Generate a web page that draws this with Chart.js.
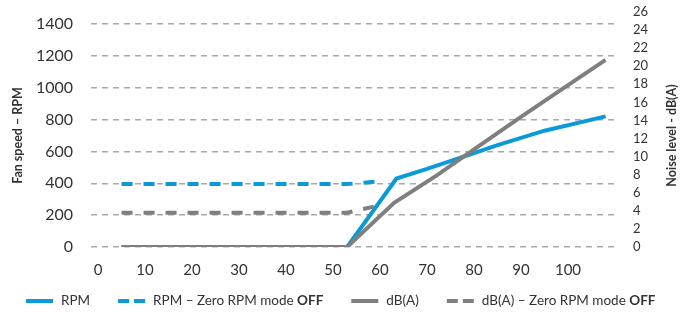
<!DOCTYPE html>
<html>
<head>
<meta charset="utf-8">
<script src="https://cdn.jsdelivr.net/npm/chart.js@4.4.1/dist/chart.umd.min.js"></script>
<style>
  html, body { margin: 0; padding: 0; background: #ffffff; }
  #wrap { width: 681px; height: 315px; position: relative; }
</style>
</head>
<body>
<div id="wrap"><canvas id="fanChart"></canvas></div>
<script>
// данные графика
const seriesLabels = ['RPM', 'RPM – Zero RPM mode OFF', 'dB(A)', 'dB(A) – Zero RPM mode OFF'];
const rpmX = [5, 53, 63.5, 70, 77, 85, 95, 108];
const rpmY = [0, 0, 430, 490, 560, 640, 730, 820];
const rpmOffX = [5, 53, 60];
const rpmOffY = [395, 395, 412];
const dbX = [5, 53, 63, 72, 80, 90, 100, 108];
const dbY = [0, 0, 4.9, 7.9, 10.8, 14.4, 17.9, 20.7];
const dbOffX = [5, 53, 59];
const dbOffY = [3.8, 3.8, 4.5];
const xTicks = [0, 10, 20, 30, 40, 50, 60, 70, 80, 90, 100];
const rpmTicks = [0, 200, 400, 600, 800, 1000, 1200, 1400];
const dbTicks = [0, 2, 4, 6, 8, 10, 12, 14, 16, 18, 20, 22, 24, 26];
const leftTitle = 'Fan speed – RPM';
const rightTitle = 'Noise level - dB(A)';

const BLUE = '#0a9ad7';
const GREY = '#7f7f7f';
const FONT = 'Lato, "Open Sans", sans-serif';

const toPoints = (xs, ys) => xs.map((x, i) => ({ x, y: ys[i] }));

// убираем автоматические отступы под подписи, размеры задаём сами
const fixSize = (size) => (scale) => {
  Object.assign(scale, size);
  scale.paddingTop = 0;
  scale.paddingBottom = 0;
  scale.paddingLeft = 0;
  scale.paddingRight = 0;
};

// подписи осей и легенда рисуем сами (жирное OFF, поворот правой подписи)
const extrasPlugin = {
  id: 'extras',
  afterDraw(chart) {
    const { ctx, chartArea } = chart;
    const midY = (chartArea.top + chartArea.bottom) / 2 + 6;
    ctx.save();
    ctx.fillStyle = '#333333';
    ctx.font = `bold 12.5px ${FONT}`;
    ctx.textAlign = 'center';
    ctx.textBaseline = 'middle';
    [[18, leftTitle], [672, rightTitle]].forEach(([x, text]) => {
      ctx.save();
      ctx.translate(x, midY);
      ctx.rotate(-Math.PI / 2);
      ctx.fillText(text, 0, 0);
      ctx.restore();
    });

    // легенда
    let x = 26;
    const y = 301;
    chart.data.datasets.forEach((ds) => {
      ctx.save();
      ctx.strokeStyle = ds.borderColor;
      ctx.lineWidth = 4;
      ctx.setLineDash(ds.borderDash ? [11, 5] : []);
      ctx.beginPath();
      ctx.moveTo(x, y);
      ctx.lineTo(x + 27, y);
      ctx.stroke();
      ctx.restore();
      x += 27 + 8;
      ctx.textAlign = 'left';
      ctx.fillStyle = '#333333';
      const label = ds.label;
      if (label.endsWith(' OFF')) {
        const head = label.slice(0, -3);
        ctx.font = `13.5px ${FONT}`;
        ctx.fillText(head, x, y);
        x += ctx.measureText(head).width;
        ctx.font = `bold 13.5px ${FONT}`;
        ctx.fillText('OFF', x, y);
        x += ctx.measureText('OFF').width;
      } else {
        ctx.font = `13.5px ${FONT}`;
        ctx.fillText(label, x, y);
        x += ctx.measureText(label).width;
      }
      x += 28;
    });
    ctx.restore();
  },
};

const lineStyle = {
  borderWidth: 4,
  pointRadius: 0,
  tension: 0,
  fill: false,
};

const chartConfig = {
  type: 'line',
  data: {
    datasets: [
      {
        ...lineStyle, label: seriesLabels[0], data: toPoints(rpmX, rpmY), borderColor: BLUE, yAxisID: 'y', order: 2,
      },
      {
        ...lineStyle, label: seriesLabels[1], data: toPoints(rpmOffX, rpmOffY), borderColor: BLUE, borderDash: [11, 11], yAxisID: 'y', order: 2,
      },
      {
        ...lineStyle, label: seriesLabels[2], data: toPoints(dbX, dbY), borderColor: GREY, yAxisID: 'y1', order: 1,
      },
      {
        ...lineStyle, label: seriesLabels[3], data: toPoints(dbOffX, dbOffY), borderColor: GREY, borderDash: [11, 11], yAxisID: 'y1', order: 1,
      },
    ],
  },
  options: {
    responsive: true,
    maintainAspectRatio: false,
    animation: false,
    layout: { padding: { top: 12, left: 0, right: 0, bottom: 0 } },
    plugins: {
      legend: { display: false },
      tooltip: { enabled: false },
    },
    scales: {
      x: {
        type: 'linear',
        min: -1.5,
        max: 110,
        afterBuildTicks: (scale) => { scale.ticks = xTicks.map((value) => ({ value })); },
        afterFit: fixSize({ height: 68 }),
        grid: { display: false, drawTicks: false },
        border: { display: false },
        ticks: {
          color: '#333333',
          font: { family: FONT, size: 15 },
          padding: 14,
          maxRotation: 0,
          autoSkip: false,
          callback: (value) => String(value),
        },
      },
      y: {
        position: 'left',
        min: 0,
        max: 1475,
        afterBuildTicks: (scale) => { scale.ticks = rpmTicks.map((value) => ({ value })); },
        afterFit: fixSize({ width: 91 }),
        grid: {
          color: '#a8a8a8', lineWidth: 1.5, drawTicks: false,
        },
        border: { display: false, dash: [6, 5] },
        ticks: {
          color: '#333333',
          font: { family: FONT, size: 16 },
          padding: 18,
          autoSkip: false,
          callback: (value) => String(value),
        },
      },
      y1: {
        position: 'right',
        min: 0,
        max: 26,
        afterBuildTicks: (scale) => { scale.ticks = dbTicks.map((value) => ({ value })); },
        afterFit: fixSize({ width: 66 }),
        grid: { display: false, drawTicks: false },
        border: { display: false },
        ticks: {
          color: '#333333',
          font: { family: FONT, size: 13 },
          padding: 18,
          autoSkip: false,
          callback: (value) => String(value),
        },
      },
    },
  },
  plugins: [extrasPlugin],
};

const chart = new Chart(document.getElementById('fanChart'), chartConfig);
</script>
</body>
</html>
